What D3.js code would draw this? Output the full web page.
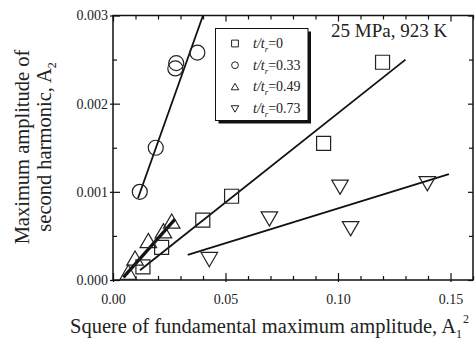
<!DOCTYPE html>
<html><head><meta charset="utf-8">
<script src="https://cdn.jsdelivr.net/npm/d3@7"></script>
<style>
body{margin:0;background:#fff;}
svg, svg text{font-family:"Liberation Serif","Times New Roman",serif !important;}
</style></head>
<body><svg id="c" width="476" height="343"></svg>
<script>
// ---- data ----
const xTicks = [0.00, 0.05, 0.10, 0.15];
const yTicks = [0.000, 0.001, 0.002, 0.003];
const seriesNames = ["0", "0.33", "0.49", "0.73"];
const sqX = [0.0133, 0.0216, 0.0399, 0.0527, 0.0936, 0.1198];
const sqY = [0.00015, 0.00037, 0.00068, 0.00095, 0.00155, 0.00247];
const ciX = [0.0119, 0.0190, 0.0277, 0.0281, 0.0375];
const ciY = [0.00100, 0.00150, 0.00240, 0.00246, 0.00258];
const upX = [0.0068, 0.0098, 0.0157, 0.0224, 0.0261];
const upY = [0.00008, 0.00024, 0.00044, 0.00055, 0.00066];
const dnX = [0.0428, 0.0695, 0.1009, 0.1056, 0.1397];
const dnY = [0.00024, 0.00070, 0.00106, 0.00059, 0.00110];
// fitted lines: [x0, y0, x1, y1]
const fitSq = [0.012, 0.00011, 0.130, 0.0025];
const fitCi = [0.0111, 0.000928, 0.0400, 0.003];
const fitUp = [0.0046, 0.00003, 0.0276, 0.00069];
const fitDn = [0.0332, 0.000284, 0.1493, 0.0012];

const FONT = "Liberation Serif, Times New Roman, serif";
const svg = d3.select("#c");
const L = 113, R = 473, T = 15.5, B = 280;
const x = d3.scaleLinear().domain([0, 0.16]).range([L, R]);
const y = d3.scaleLinear().domain([0, 0.003]).range([B, T]);

const fmtX = d3.format(".2f"), fmtY = d3.format(".3f");
const xMinor = d3.range(0, 0.1601, 0.01);
const yMinor = d3.range(0, 0.00301, 0.0005);
function isMajorX(v){return Math.abs(v/0.05 - Math.round(v/0.05))<1e-6;}
function isMajorY(v){return Math.abs(v/0.001 - Math.round(v/0.001))<1e-6;}

const gb = svg.append("g").attr("transform",`translate(0,${B})`)
  .call(d3.axisBottom(x).tickValues(xMinor).tickSize(0).tickFormat(""));
gb.select(".domain").remove();
gb.selectAll(".tick line").attr("y1", d=>isMajorX(d)?2:0).attr("y2", d=>isMajorX(d)?-7:-4);
const gbl = svg.append("g").attr("transform",`translate(0,${B})`)
  .call(d3.axisBottom(x).tickValues(xTicks).tickSize(0).tickPadding(14).tickFormat(fmtX));
gbl.select(".domain").remove();
gbl.attr("font-family",FONT).attr("font-size",14);
gbl.selectAll("text").attr("font-size",14).attr("font-family",FONT).attr("fill","#222");

const gt = svg.append("g").attr("transform",`translate(0,${T})`)
  .call(d3.axisTop(x).tickValues(xMinor).tickSize(0).tickFormat(""));
gt.select(".domain").remove();
gt.selectAll(".tick line").attr("y1",0).attr("y2", d=>isMajorX(d)?6:4);

const gl = svg.append("g").attr("transform",`translate(${L},0)`)
  .call(d3.axisLeft(y).tickValues(yMinor).tickSize(0).tickFormat(""));
gl.select(".domain").remove();
gl.selectAll(".tick line").attr("x1", d=>isMajorY(d)?-3:0).attr("x2", d=>isMajorY(d)?7:4);
const gll = svg.append("g").attr("transform",`translate(${L},0)`)
  .call(d3.axisLeft(y).tickValues(yTicks).tickSize(0).tickPadding(5).tickFormat(fmtY));
gll.select(".domain").remove();
gll.attr("font-family",FONT).attr("font-size",14);
gll.selectAll("text").attr("font-size",14).attr("font-family",FONT).attr("fill","#222");

const gr = svg.append("g").attr("transform",`translate(${R},0)`)
  .call(d3.axisRight(y).tickValues(yMinor).tickSize(0).tickFormat(""));
gr.select(".domain").remove();
gr.selectAll(".tick line").attr("x1",0).attr("x2", d=>isMajorY(d)?-5:-4);

svg.selectAll(".tick line").attr("stroke","#111").attr("stroke-width",1.2);

svg.append("rect").attr("x",L).attr("y",T).attr("width",R-L).attr("height",B-T)
  .attr("fill","none").attr("stroke","#111").attr("stroke-width",1.5);

// fit lines
const fits = [[fitSq,1.8],[fitCi,1.8],[fitUp,3.2],[fitDn,1.8]];
svg.append("g").selectAll("line").data(fits).join("line")
  .attr("x1",d=>x(d[0][0])).attr("y1",d=>y(d[0][1]))
  .attr("x2",d=>x(d[0][2])).attr("y2",d=>y(d[0][3]))
  .attr("stroke","#111").attr("stroke-width",d=>d[1]);

// markers
function pathFor(type, s){
  if(type==="sq") return `M${-s},${-s}H${s}V${s}H${-s}Z`;
  if(type==="ci") return `M${s},0A${s},${s} 0 1,1 ${-s},0A${s},${s} 0 1,1 ${s},0Z`;
  if(type==="up") return `M0,${-s*1.05}L${s*1.1},${s*0.85}L${-s*1.1},${s*0.85}Z`;
  if(type==="dn") return `M0,${s*1.05}L${s*1.1},${-s*0.85}L${-s*1.1},${-s*0.85}Z`;
}
const series = [
  {type:"sq", xs:sqX, ys:sqY, s:7},
  {type:"ci", xs:ciX, ys:ciY, s:7.5},
  {type:"up", xs:upX, ys:upY, s:7.5},
  {type:"dn", xs:dnX, ys:dnY, s:7.5}
];
series.forEach(se=>{
  svg.append("g").selectAll("path").data(se.xs.map((v,i)=>[v,se.ys[i]])).join("path")
    .attr("transform",d=>`translate(${x(d[0])},${y(d[1])})`)
    .attr("d",pathFor(se.type,se.s))
    .attr("fill","none").attr("stroke","#222").attr("stroke-width",1.2);
});

// legend
const lg = svg.append("g").attr("font-family",FONT);
lg.append("rect").attr("x",218.5).attr("y",31.5).attr("width",92.5).attr("height",92).attr("fill","#111");
lg.append("rect").attr("x",215.5).attr("y",28.5).attr("width",92.5).attr("height",92)
  .attr("fill","#fff").attr("stroke","#111").attr("stroke-width",1);
const types = ["sq","ci","up","dn"];
seriesNames.forEach((nm,i)=>{
  const cy = 43.5 + i*21.7;
  lg.append("path").attr("transform",`translate(235,${cy})`).attr("d",pathFor(types[i],3.4))
    .attr("fill","none").attr("stroke","#222").attr("stroke-width",1);
  const t = lg.append("text").attr("x",253).attr("y",cy+4.5).attr("font-size",14).attr("fill","#222");
  t.append("tspan").attr("font-style","italic").text("t/t");
  t.append("tspan").attr("font-style","italic").attr("font-size",9).attr("dy",4).text("r");
  t.append("tspan").attr("dy",-4).text("=" + nm);
});

// annotation
svg.append("text").attr("x",331).attr("y",37).attr("font-size",19).attr("font-family",FONT).attr("fill","#222").text("25 MPa, 923 K");

// axis titles
const xt = svg.append("text").attr("x",70).attr("y",333).attr("font-size",20.5).attr("font-family",FONT).attr("fill","#222");
xt.append("tspan").text("Squere of fundamental maximum amplitude, A");
xt.append("tspan").attr("font-size",12).attr("dy",5).text("1");
xt.append("tspan").attr("font-size",12).attr("dy",-15).attr("dx",1).text("2");

const yt = svg.append("g").attr("font-family",FONT).attr("transform","translate(28.5,147) rotate(-90)");
yt.append("text").attr("text-anchor","middle").attr("font-size",20.5).attr("fill","#222").text("Maximum amplitude of");
const yt2 = yt.append("text").attr("text-anchor","middle").attr("y",22.5).attr("font-size",20.5).attr("fill","#222");
yt2.append("tspan").text("second harmonic, A");
yt2.append("tspan").attr("font-size",12).attr("dy",5).text("2");
</script></body></html>
